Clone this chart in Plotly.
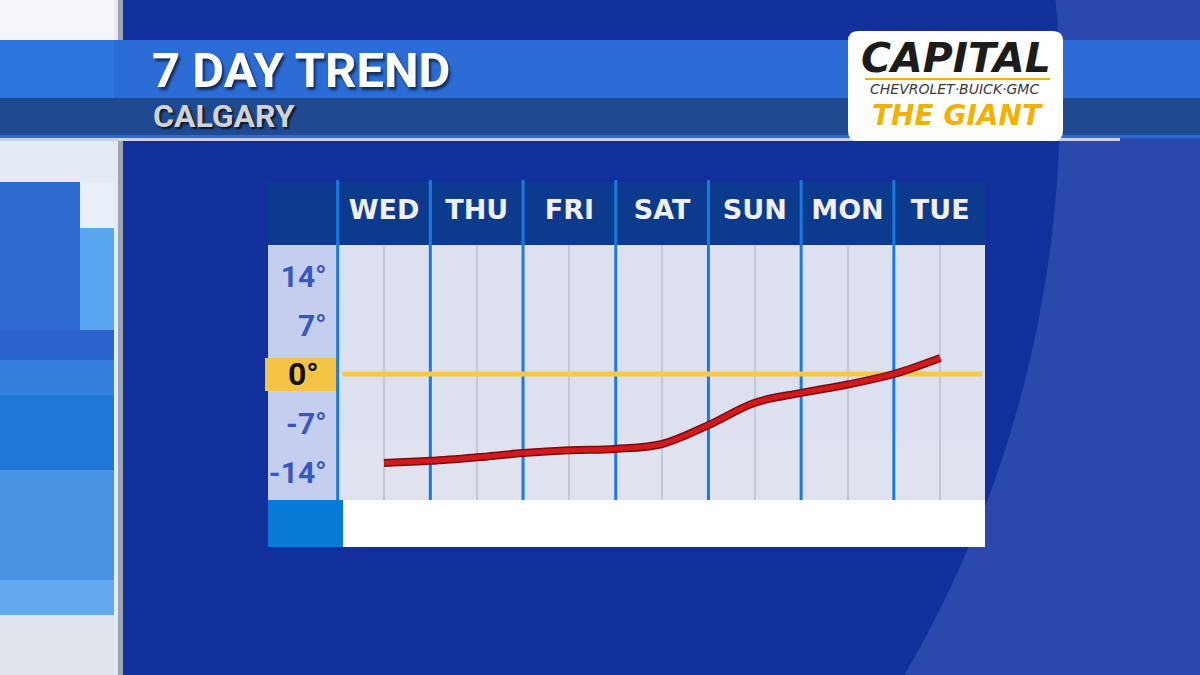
import plotly.graph_objects as go

# ---- data ----
days = ["WED", "THU", "FRI", "SAT", "SUN", "MON", "TUE"]
day_pos = [0, 1, 2, 3, 4, 5, 6]
# temperature trend sampled every half day (day index, deg C)
trend_x = [0, 0.5, 1, 1.5, 2, 2.5, 3, 3.5, 4, 4.5, 5, 5.5, 6]
trend_y = [-12.7, -12.4, -11.9, -11.3, -10.9, -10.7, -10.0, -7.3, -4.1, -2.7, -1.5, 0.0, 2.3]
y_ticks = [14, 7, -7, -14]
y_ticklabels = ["14°", "7°", "-7°", "-14°"]
dividers = [-0.5, 0.5, 1.5, 2.5, 3.5, 4.5, 5.5]

W, H = 1200, 675
def X(px):
    return px / W
def Y(py):
    return 1 - py / H

FONT = "Roboto"
WIDE = "DejaVu Sans"

fig = go.Figure()

fig.add_trace(go.Scatter(x=trend_x, y=trend_y, mode="lines",
                         line=dict(color="#7e0a0c", width=8, shape="spline", smoothing=1.0),
                         hoverinfo="skip", showlegend=False))
fig.add_trace(go.Scatter(x=trend_x, y=trend_y, mode="lines",
                         line=dict(color="#d01a1e", width=5, shape="spline", smoothing=1.0),
                         showlegend=False))

shapes = []
def rect(x0, y0, x1, y1, color, layer="below"):
    shapes.append(dict(type="rect", xref="paper", yref="paper",
                       x0=X(x0), x1=X(x1), y0=Y(y1), y1=Y(y0),
                       fillcolor=color, line=dict(width=0), layer=layer))

# background
rect(0, 0, 1200, 675, "#2a48ad")
cx, cy, R = -80, 100, 1140
shapes.append(dict(type="circle", xref="paper", yref="paper",
                   x0=X(cx - R), x1=X(cx + R), y0=Y(cy + R), y1=Y(cy - R),
                   fillcolor="#12309c", line=dict(width=0), layer="below"))
# left collage
rect(0, 0, 114, 675, "#3f86dc")
rect(0, 0, 114, 40, "#f4f6fa")
rect(0, 140, 114, 182, "#e4ebf5")
rect(0, 182, 114, 360, "#2f6cd2")
rect(80, 182, 114, 228, "#e8eff8")
rect(80, 228, 114, 330, "#5aa6ee")
rect(0, 330, 114, 360, "#2a64cc")
rect(0, 360, 114, 395, "#3580dc")
rect(0, 395, 114, 470, "#1f78d8")
rect(0, 470, 114, 580, "#4a92e2")
rect(0, 580, 114, 615, "#62a8ee")
rect(0, 615, 114, 675, "#dfe4ec")
rect(114, 0, 118, 675, "#e6e9ef")
rect(118, 0, 123, 675, "#9aa3b3")
# banner
rect(0, 40, 1200, 98, "#2c6cd6")
rect(0, 40, 114, 98, "#2d74de")
rect(0, 98, 1200, 135, "#1f4a8f")
rect(0, 135, 1200, 138, "#2f6ad4")
rect(0, 138, 1120, 141, "#c9d2e4")
# logo box
lx0, ly0, lx1, ly1, r = 848, 31, 1063, 141, 10
path = (f"M {X(lx0+r)},{Y(ly0)} L {X(lx1-r)},{Y(ly0)} Q {X(lx1)},{Y(ly0)} {X(lx1)},{Y(ly0+r)} "
        f"L {X(lx1)},{Y(ly1-r)} Q {X(lx1)},{Y(ly1)} {X(lx1-r)},{Y(ly1)} "
        f"L {X(lx0+r)},{Y(ly1)} Q {X(lx0)},{Y(ly1)} {X(lx0)},{Y(ly1-r)} "
        f"L {X(lx0)},{Y(ly0+r)} Q {X(lx0)},{Y(ly0)} {X(lx0+r)},{Y(ly0)} Z")
shapes.append(dict(type="path", xref="paper", yref="paper", path=path,
                   fillcolor="#ffffff", line=dict(width=0), layer="below"))
shapes.append(dict(type="line", xref="paper", yref="paper", x0=X(865), x1=X(1050), y0=Y(79), y1=Y(79),
                   line=dict(color="#f0b400", width=2), layer="below"))
# chart panel
rect(268, 182, 985, 245, "#0c3a8c")
rect(268, 245, 336, 500, "#c6ceef")
rect(336, 245, 985, 500, "#dce0ef")
rect(336, 440, 985, 500, "#e0e3ef")
rect(268, 500, 343, 547, "#0a7ad8")
rect(343, 500, 985, 547, "#ffffff")
rect(265, 358, 339, 391, "#f6c445")

# day dividers
for d in dividers:
    shapes.append(dict(type="line", xref="x", yref="paper", x0=d, x1=d,
                       y0=Y(500), y1=Y(180), line=dict(color="#1a7ae0", width=3), layer="between"))
# zero line
shapes.append(dict(type="line", xref="x", yref="y", x0=-0.45, x1=6.45, y0=0, y1=0,
                   line=dict(color="#f7c843", width=5), layer="between"))

annotations = [
    dict(text="7 DAY TREND", x=X(150), y=Y(71), xref="paper", yref="paper", xanchor="left", yanchor="middle",
         showarrow=False, font=dict(family=FONT, size=49, color="#ffffff", weight="bold",
                                    shadow="2px 3px 3px rgba(0,0,0,0.6)")),
    dict(text="CALGARY", x=X(151), y=Y(116), xref="paper", yref="paper", xanchor="left", yanchor="middle",
         showarrow=False, font=dict(family=FONT, size=32, color="#d2d2d2", weight="bold",
                                    shadow="2px 2px 2px rgba(0,0,0,0.7)")),
    dict(text="CAPITAL", x=X(956), y=Y(58), xref="paper", yref="paper", xanchor="center", yanchor="middle",
         showarrow=False, font=dict(family=WIDE, size=41, color="#1c1c1c", weight="bold", style="italic")),
    dict(text="CHEVROLET·BUICK·GMC", x=X(954), y=Y(88.5), xref="paper", yref="paper", xanchor="center", yanchor="middle",
         showarrow=False, font=dict(family=WIDE, size=14, color="#3a3a3a", style="italic")),
    dict(text="THE GIANT", x=X(957), y=Y(116), xref="paper", yref="paper", xanchor="center", yanchor="middle",
         showarrow=False, font=dict(family=WIDE, size=28, color="#f2b100", weight="bold", style="italic")),
    dict(text="0°", x=X(303), y=0, xref="paper", yref="y", xanchor="center", yanchor="middle",
         showarrow=False, font=dict(family=FONT, size=32, color="#111111", weight="bold")),
]

x_left, x_right = 335.8, 985
span = 92.7
fig.update_layout(
    width=W, height=H, margin=dict(l=0, r=0, t=0, b=0),
    paper_bgcolor="#12309c", plot_bgcolor="rgba(0,0,0,0)",
    shapes=shapes, annotations=annotations, showlegend=False,
    xaxis=dict(domain=[X(x_left), X(x_right)],
               range=[(x_left - 384) / span, (x_right - 384) / span],
               side="top", tickmode="array", tickvals=day_pos, ticktext=days,
               showgrid=True, gridcolor="#c4c8d6", gridwidth=2, zeroline=False,
               showline=False, ticks="", ticklabelstandoff=20,
               tickfont=dict(family=WIDE, size=27, color="#f0f0f0", weight="bold"),
               fixedrange=True),
    yaxis=dict(domain=[Y(500), Y(245)], range=[-18.0, 18.43],
               tickmode="array", tickvals=y_ticks, ticktext=y_ticklabels,
               showgrid=False, zeroline=False, showline=False, ticks="",
               ticklabelstandoff=8,
               tickfont=dict(family=FONT, size=30, color="#3a56c0", weight="bold"),
               fixedrange=True),
)

fig.write_html("out.html", config={"displayModeBar": False},
               post_script="document.body.style.margin='0';document.body.style.overflow='hidden';")
